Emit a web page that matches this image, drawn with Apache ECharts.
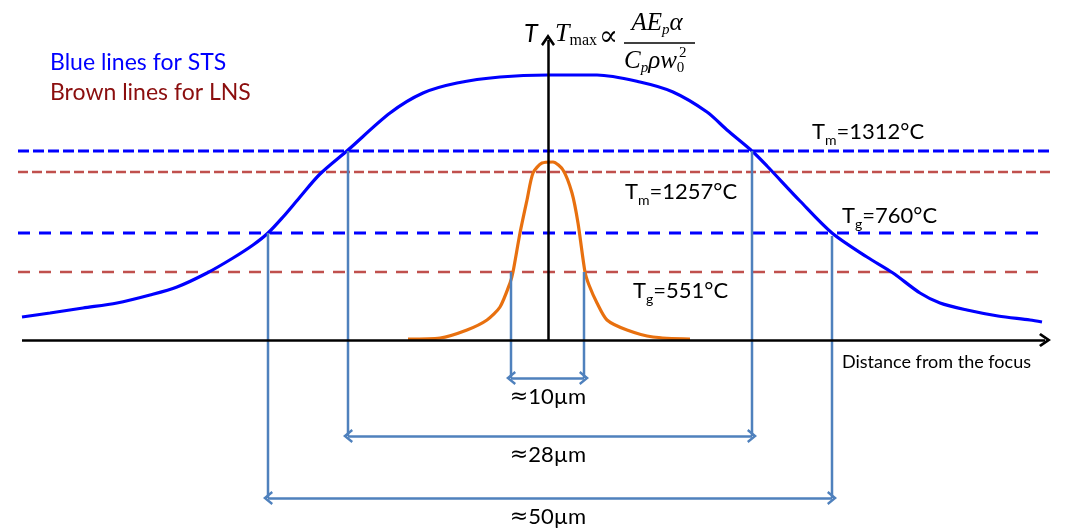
<!DOCTYPE html>
<html>
<head>
<meta charset="utf-8">
<script src="https://cdn.jsdelivr.net/npm/echarts@6/dist/echarts.min.js"></script>
<style>
  html, body { margin: 0; padding: 0; background: #fff; }
  #chart { width: 1069px; height: 532px; }
</style>
</head>
<body>
<div id="chart"></div>
<script>
// schematic units: x = distance from focus, y = temperature (relative)
const stsCurve = [
  [-526, 23], [-498, 27], [-465, 32], [-431, 37], [-398, 45], [-371, 53],
  [-341, 67], [-315, 82], [-295, 95], [-280, 107], [-265, 123], [-248, 143],
  [-228, 166], [-200, 190], [-158, 227], [-125, 247], [-91, 257], [-48, 263],
  [0, 265], [49, 265], [92, 258], [125, 248], [159, 228], [179, 210],
  [204, 189], [219, 174], [252, 139], [284, 107], [319, 83], [345, 67],
  [372, 47], [392, 37], [419, 30], [450, 24], [482, 20], [494, 18]
];
const lnsCurve = [
  [-140, 1], [-108, 2], [-81, 10], [-61, 20], [-48, 33], [-38, 57],
  [-35, 68], [-28, 107], [-21, 140], [-15, 167], [-6, 177], [5, 178],
  [15, 170], [24, 147], [30, 117], [37, 68], [41, 55], [49, 37],
  [59, 20], [79, 10], [105, 3], [142, 1]
];

// melting / glass transition levels
const levelGroup = ['STS', 'LNS', 'STS', 'LNS'];
const levelKind = ['m', 'm', 'g', 'g'];
const levelTemp = ['1312', '1257', '760', '551'];
const levelY = [189, 168, 107, 68];
const levelEnd = [502, 502, 495, 495];

// widths read at the levels
const spanText = ['10µm', '28µm', '50µm'];
const spanLeft = [-37, -200, -280];
const spanRight = [36, 204, 284];
const spanTopL = [68, 189, 107];
const spanTopR = [68, 189, 104];
const spanArrowY = [-38, -96, -158];

const axisStart = -526;
const axisEnd = 497;
const axisTop = 300;

const BLUE = '#0000ff';
const BROWN = '#c0504d';
const ORANGE = '#e8700f';
const STEEL = '#4f81bd';
const FONT = 'Lato, "Open Sans", sans-serif';
const SERIF = '"Liberation Serif", "DejaVu Serif", serif';
const chevron = 'path://M5,0 L10,7 L8.6,8.2 L5,3.2 L1.4,8.2 L0,7 Z';

const chart = echarts.init(document.getElementById('chart'));

const series = [];

// dashed levels
levelY.forEach((y, i) => {
  const sts = levelGroup[i] === 'STS';
  const isM = levelKind[i] === 'm';
  series.push({
    type: 'line',
    silent: true,
    symbol: 'none',
    data: [[-530, y], [levelEnd[i], y]],
    lineStyle: {
      color: sts ? BLUE : BROWN,
      width: sts ? 3 : 2.5,
      type: isM ? (sts ? [11, 4] : [10, 4]) : [12, 9]
    },
    z: 1
  });
});

// axes
series.push({
  type: 'line',
  silent: true,
  symbol: 'none',
  data: [],
  markLine: {
    silent: true,
    symbol: ['none', chevron],
    symbolSize: [14, 12],
    label: { show: false },
    lineStyle: { color: '#000', width: 2.5, type: 'solid' },
    data: [
      [{ coord: [axisStart, 0] }, { coord: [axisEnd, 0] }],
      [{ coord: [0, 0] }, { coord: [0, axisTop] }]
    ]
  },
  z: 2
});

series.push({
  name: 'STS',
  type: 'line',
  smooth: 0.3,
  symbol: 'none',
  data: stsCurve,
  lineStyle: { color: BLUE, width: 3.2 },
  z: 3
});
series.push({
  name: 'LNS',
  type: 'line',
  smooth: 0.25,
  symbol: 'none',
  data: lnsCurve,
  lineStyle: { color: ORANGE, width: 3.2 },
  z: 3
});

// dimension lines
spanText.forEach((t, i) => {
  series.push({
    type: 'line', silent: true, symbol: 'none',
    data: [[spanLeft[i], spanTopL[i]], [spanLeft[i], spanArrowY[i]]],
    lineStyle: { color: STEEL, width: 2.5 }, z: 4
  });
  series.push({
    type: 'line', silent: true, symbol: 'none',
    data: [[spanRight[i], spanTopR[i]], [spanRight[i], spanArrowY[i]]],
    lineStyle: { color: STEEL, width: 2.5 }, z: 4
  });
});
series.push({
  type: 'line',
  silent: true,
  symbol: 'none',
  data: [],
  markLine: {
    silent: true,
    symbol: [chevron, chevron],
    symbolSize: [14, 10],
    label: { show: false },
    lineStyle: { color: STEEL, width: 2.5, type: 'solid' },
    data: spanText.map((t, i) => [
      { coord: [spanLeft[i], spanArrowY[i]] },
      { coord: [spanRight[i], spanArrowY[i]] }
    ])
  },
  z: 4
});

chart.setOption({
  animation: false,
  backgroundColor: '#fff',
  grid: { left: 0, right: 0, top: 0, bottom: 0 },
  xAxis: { type: 'value', min: -548, max: 521, show: false },
  yAxis: { type: 'value', min: -192, max: 340, show: false },
  series: series
});

// text annotations
const sub = { fontSize: 14, lineHeight: 14, verticalAlign: 'bottom', fontFamily: FONT, fill: '#000' };
const main = { fontSize: 22, lineHeight: 30, fontFamily: FONT, fill: '#000' };
const levelPos = [[812, 132], [625, 192], [842, 216], [633, 291]];

const graphic = [];
graphic.push({
  type: 'text', x: 50, y: 63,
  style: { text: 'Blue lines for STS', fill: BLUE, font: '23px ' + FONT, verticalAlign: 'middle' }
});
graphic.push({
  type: 'text', x: 50, y: 93,
  style: { text: 'Brown lines for LNS', fill: '#8b0e0e', font: '23px ' + FONT, verticalAlign: 'middle' }
});
levelTemp.forEach((t, i) => {
  graphic.push({
    type: 'text', x: levelPos[i][0], y: levelPos[i][1],
    style: {
      text: '{n|T}{s|' + levelKind[i] + '}{n|=' + t + '°C}',
      verticalAlign: 'middle',
      rich: { n: main, s: sub }
    }
  });
});
spanText.forEach((t, i) => {
  const p = chart.convertToPixel({ gridIndex: 0 }, [0, spanArrowY[i]]);
  graphic.push({
    type: 'text', x: p[0], y: p[1] + 19,
    style: {
      text: '{a|≈}{n|' + t + '}',
      align: 'center', verticalAlign: 'middle',
      rich: {
        a: { fontSize: 22, fontFamily: '"DejaVu Sans", sans-serif', fill: '#000', lineHeight: 28 },
        n: { fontSize: 22, fontFamily: FONT, fill: '#000', lineHeight: 28 }
      }
    }
  });
});
graphic.push({
  type: 'text', x: 842, y: 362,
  style: { text: 'Distance from the focus', fill: '#000', font: '18px ' + FONT, verticalAlign: 'middle' }
});
// axis name and formula
graphic.push({
  type: 'text', x: 524, y: 34,
  style: { text: 'T', fill: '#000', font: 'italic 25px ' + FONT, verticalAlign: 'middle' }
});
const serifI = { fontSize: 25, fontStyle: 'italic', fontFamily: SERIF, fill: '#000', lineHeight: 30 };
const serifS = { fontSize: 15, fontStyle: 'italic', fontFamily: SERIF, fill: '#000', lineHeight: 14, verticalAlign: 'bottom' };
const serifU = { fontSize: 15, fontFamily: SERIF, fill: '#000', lineHeight: 14, verticalAlign: 'bottom' };
graphic.push({
  type: 'text', x: 555, y: 34,
  style: {
    text: '{i|T}{m|max}',
    verticalAlign: 'middle',
    rich: {
      i: { fontSize: 26, fontStyle: 'italic', fontFamily: SERIF, fill: '#000', lineHeight: 30 },
      m: { fontSize: 16, fontFamily: SERIF, fill: '#000', lineHeight: 14, verticalAlign: 'bottom' }
    }
  }
});
graphic.push({
  type: 'text', x: 599, y: 38,
  style: { text: '∝', fill: '#000', font: '28px ' + SERIF, verticalAlign: 'middle' }
});
graphic.push({
  type: 'text', x: 657, y: 23,
  style: { text: '{i|AE}{s|p}{i|α}', align: 'center', verticalAlign: 'middle', rich: { i: serifI, s: serifS } }
});
graphic.push({
  type: 'line', shape: { x1: 624, y1: 43, x2: 695, y2: 43 },
  style: { stroke: '#000', lineWidth: 1.3 }
});
graphic.push({
  type: 'text', x: 624, y: 61,
  style: { text: '{i|C}{s|p}{i|ρw}{u|0}', verticalAlign: 'middle', rich: { i: serifI, s: serifS, u: serifU } }
});
graphic.push({
  type: 'text', x: 679, y: 53,
  style: { text: '2', fill: '#000', font: '15px ' + SERIF, verticalAlign: 'middle' }
});

chart.setOption({ graphic: graphic });
</script>
</body>
</html>
